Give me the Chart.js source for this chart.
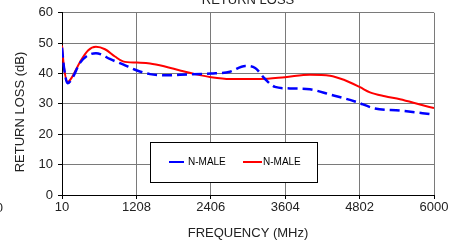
<!DOCTYPE html>
<html>
<head>
<meta charset="utf-8">
<script src="https://cdn.jsdelivr.net/npm/chart.js@4"></script>
<style>
  html, body { margin: 0; padding: 0; background: #fff; }
  #wrap { width: 461px; height: 241px; }
</style>
</head>
<body>
<div id="wrap"><canvas id="rlChart" width="461" height="241"></canvas></div>
<script>
// frequency ticks and values
const xTicks = [10, 1208, 2406, 3604, 4802, 6000];
const yTicks = [0, 10, 20, 30, 40, 50, 60];

const blueFreq = [10, 42, 100, 171, 300, 429, 557, 640, 780, 992, 1218, 1427, 1668, 1910, 2409, 2715, 2960, 3120, 3280, 3440, 3680, 4003, 4325, 4727, 5049, 5452, 6000];
const blueLoss = [48.5, 42, 36.8, 38.3, 43.5, 46.0, 46.7, 46.3, 44.8, 43.0, 41.0, 39.8, 39.4, 39.6, 40.0, 40.6, 42.5, 41.8, 38.2, 35.6, 35.1, 34.8, 33.1, 30.8, 28.5, 27.8, 26.5];

const redFreq = [10, 42, 100, 171, 300, 429, 557, 702, 863, 992, 1218, 1427, 1668, 1910, 2151, 2409, 2715, 3198, 3600, 4003, 4325, 4566, 4808, 4969, 5210, 5452, 5774, 6000];
const redLoss = [49.2, 42, 37.2, 38.8, 43.8, 47.6, 48.8, 48.0, 45.6, 44.0, 43.6, 43.3, 42.3, 41.0, 39.8, 38.8, 38.2, 38.2, 38.8, 39.6, 39.3, 37.8, 35.5, 33.8, 32.5, 31.5, 29.8, 28.6];

const seriesNames = ["N-MALE", "N-MALE"];

const FONT = "'Liberation Sans', Arial, sans-serif";

function toPoints(xs, ys) {
  return xs.map((x, i) => ({ x: x, y: ys[i] }));
}

const extras = {
  id: "extras",
  afterDatasetsDraw(chart) {
    const ctx = chart.ctx;
    ctx.save();
    // legend box
    ctx.fillStyle = "#fff";
    ctx.fillRect(150, 142, 167, 40);
    ctx.strokeStyle = "#000";
    ctx.lineWidth = 1;
    ctx.strokeRect(150.5, 142.5, 167, 40);
    ctx.lineWidth = 2;
    ctx.strokeStyle = "#0000ff";
    ctx.beginPath(); ctx.moveTo(169, 162); ctx.lineTo(184, 162); ctx.stroke();
    ctx.strokeStyle = "#ff0000";
    ctx.beginPath(); ctx.moveTo(243, 162); ctx.lineTo(262, 162); ctx.stroke();
    ctx.fillStyle = "#000";
    ctx.font = "10px " + FONT;
    ctx.textBaseline = "middle";
    ctx.fillText(seriesNames[0], 188, 162);
    ctx.fillText(seriesNames[1], 263, 162);
    // clipped title and stray label
    ctx.fillStyle = "#222";
    ctx.font = "13px " + FONT;
    ctx.textAlign = "center";
    ctx.textBaseline = "alphabetic";
    ctx.fillText("RETURN LOSS", 248, 4);
    // y axis title
    ctx.save();
    ctx.translate(20, 112);
    ctx.rotate(-Math.PI / 2);
    ctx.textBaseline = "middle";
    ctx.fillText("RETURN LOSS (dB)", 0, 0);
    ctx.restore();
    ctx.textAlign = "right";
    ctx.textBaseline = "middle";
    ctx.fillText("0", 3, 208);
    ctx.restore();
  }
};

const ctx = document.getElementById("rlChart").getContext("2d");
new Chart(ctx, {
  type: "line",
  data: {
    datasets: [
      {
        label: seriesNames[0],
        data: toPoints(blueFreq, blueLoss),
        borderColor: "#0000ff",
        borderWidth: 2.5,
        borderDash: [10, 5],
        pointRadius: 0,
        cubicInterpolationMode: "monotone",
        fill: false
      },
      {
        label: seriesNames[1],
        data: toPoints(redFreq, redLoss),
        borderColor: "#ff0000",
        borderWidth: 2,
        pointRadius: 0,
        cubicInterpolationMode: "monotone",
        fill: false
      }
    ]
  },
  options: {
    responsive: false,
    animation: false,
    layout: { padding: { top: 12, right: 27, left: 0, bottom: 0 } },
    plugins: {
      legend: { display: false },
      tooltip: { enabled: false }
    },
    scales: {
      x: {
        type: "linear",
        min: 10,
        max: 6000,
        afterBuildTicks: (scale) => { scale.ticks = xTicks.map(v => ({ value: v })); },
        afterFit: (scale) => { scale.height = 46; },
        grid: { color: "#7a7a7a", lineWidth: 1, tickLength: 4, drawTicks: true, tickColor: "#000" },
        border: { color: "#000", width: 1 },
        ticks: { color: "#222", font: { family: FONT, size: 13 }, padding: 1, maxRotation: 0, autoSkip: false, callback: (v) => String(v) },
        title: { display: true, text: "FREQUENCY (MHz)", color: "#222", font: { family: FONT, size: 13 }, padding: { top: 4, bottom: 0 } }
      },
      y: {
        min: 0,
        max: 60,
        afterBuildTicks: (scale) => { scale.ticks = yTicks.map(v => ({ value: v })); },
        afterFit: (scale) => { scale.width = 62; },
        grid: { color: "#7a7a7a", lineWidth: 1, tickLength: 4, drawTicks: true, tickColor: "#000" },
        border: { color: "#000", width: 1 },
        ticks: { color: "#222", font: { family: FONT, size: 13 }, padding: 5, callback: (v) => String(v) }
      }
    }
  },
  plugins: [extras]
});
</script>
</body>
</html>
